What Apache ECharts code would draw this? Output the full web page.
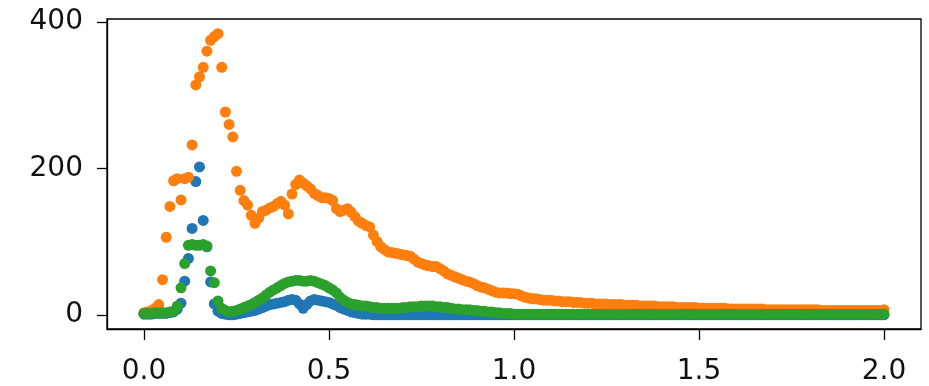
<!DOCTYPE html>
<html>
<head>
<meta charset="utf-8">
<script src="https://cdn.jsdelivr.net/npm/echarts@6/dist/echarts.min.js"></script>
<style>html,body{margin:0;padding:0;background:#fff}#c{width:929px;height:386px}</style>
</head>
<body>
<div id="c"></div>
<script>
var xs = [0.00,0.01,0.02,0.03,0.04,0.05,0.06,0.07,0.08,0.09,
0.10,0.11,0.12,0.13,0.14,0.15,0.16,0.17,0.18,0.19,
0.20,0.21,0.22,0.23,0.24,0.25,0.26,0.27,0.28,0.29,
0.30,0.31,0.32,0.33,0.34,0.35,0.36,0.37,0.38,0.39,
0.40,0.41,0.42,0.43,0.44,0.45,0.46,0.47,0.48,0.49,
0.50,0.51,0.52,0.53,0.54,0.55,0.56,0.57,0.58,0.59,
0.60,0.61,0.62,0.63,0.64,0.65,0.66,0.67,0.68,0.69,
0.70,0.71,0.72,0.73,0.74,0.75,0.76,0.77,0.78,0.79,
0.80,0.81,0.82,0.83,0.84,0.85,0.86,0.87,0.88,0.89,
0.90,0.91,0.92,0.93,0.94,0.95,0.96,0.97,0.98,0.99,
1.00,1.01,1.02,1.03,1.04,1.05,1.06,1.07,1.08,1.09,
1.10,1.11,1.12,1.13,1.14,1.15,1.16,1.17,1.18,1.19,
1.20,1.21,1.22,1.23,1.24,1.25,1.26,1.27,1.28,1.29,
1.30,1.31,1.32,1.33,1.34,1.35,1.36,1.37,1.38,1.39,
1.40,1.41,1.42,1.43,1.44,1.45,1.46,1.47,1.48,1.49,
1.50,1.51,1.52,1.53,1.54,1.55,1.56,1.57,1.58,1.59,
1.60,1.61,1.62,1.63,1.64,1.65,1.66,1.67,1.68,1.69,
1.70,1.71,1.72,1.73,1.74,1.75,1.76,1.77,1.78,1.79,
1.80,1.81,1.82,1.83,1.84,1.85,1.86,1.87,1.88,1.89,
1.90,1.91,1.92,1.93,1.94,1.95,1.96,1.97,1.98,1.99,
2.00];

var blue = [1,1,1,2,2,2,2,3,4,8,
16,46,77,118,182,202,129,93,45,15,
5,2,1,0,0,1,2,3,4,5,
6,8,10,12,14,15,16,17,18,20,
21,20,15,9,14,19,21,20,19,18,
17,15,13,10,8,6,4,3,2,1,
1,1,0,0,0,0,0,0,0,0,
0,0,0,0,0,0,0,0,0,0,
0,0,0,0,0,0,0,0,0,0,
0,0,0,0,0,0,0,0,0,0,
0,0,0,0,0,0,0,0,0,0,
0,0,0,0,0,0,0,0,0,0,
0,0,0,0,0,0,0,0,0,0,
0,0,0,0,0,0,0,0,0,0,
0,0,0,0,0,0,0,0,0,0,
0,0,0,0,0,0,0,0,0,0,
0,0,0,0,0,0,0,0,0,0,
0,0,0,0,0,0,0,0,0,0,
0,0,0,0,0,0,0,0,0,0,
0,0,0,0,0,0,0,0,0,0,
0];

var orange = [3,4,6,9,14,48,106,148,183,186,
157,186,188,232,314,325,338,360,375,380,
384,338,277,260,243,196,170,156,150,136,
125,132,141,143,146,148,152,155,150,138,
165,178,184,180,176,172,166,163,160,160,
159,156,145,141,143,145,140,134,128,125,
122,120,109,100,93,89,86,85,84,83,
82,81,80,76,72,70,68,67,66,66,
63,60,56,54,52,50,48,46,45,43,
40,38,37,35,33,31,30,30,30,29,
29,28,26,24,23,22,22,21,20,20,
20,19,19,18,18,18,17,17,17,16,
16,16,15,15,15,15,14,14,14,14,
13,13,13,13,12,12,12,12,12,11,
11,11,11,11,10,10,10,10,10,10,
9,9,9,9,9,9,9,9,8,8,
8,8,8,8,8,8,8,8,7,7,
7,7,7,7,7,7,7,7,7,7,
7,7,7,6,6,6,6,6,6,6,
6,6,6,6,6,6,6,6,6,6,
7];

var green = [2,2,2,3,3,3,3,4,5,12,
37,70,95,96,95,95,96,94,60,44,
19,9,6,4,5,6,8,10,12,14,
17,20,23,27,31,34,37,40,43,45,
46,47,47,46,46,47,46,44,42,40,
37,34,30,24,20,17,15,14,13,12,
12,11,10,10,9,9,9,9,9,9,
10,10,11,11,11,12,12,12,12,11,
11,10,10,9,8,8,7,7,7,6,
6,5,5,4,4,3,3,2,2,2,
1,1,1,1,1,1,1,1,1,1,
1,1,1,1,1,1,1,1,1,1,
1,1,1,1,1,1,1,1,1,1,
1,1,1,1,1,1,1,1,1,1,
1,1,1,1,1,1,1,1,1,1,
1,1,1,1,1,1,1,1,1,1,
1,1,1,1,1,1,1,1,1,1,
1,1,1,1,1,1,1,1,1,1,
1,1,1,1,1,1,1,1,1,1,
1,1,1,1,1,1,1,1,1,1,
1];

var xTicks = [0, 0.5, 1.0, 1.5, 2.0];
var xTickLabels = ['0.0', '0.5', '1.0', '1.5', '2.0'];
var yTicks = [0, 200, 400];
var yTickLabels = ['0', '200', '400'];

function pairs(ys) { return xs.map(function (x, i) { return [x, ys[i]]; }); }

var chart = echarts.init(document.getElementById('c'), null, {renderer: 'canvas'});
var font = {fontFamily: 'DejaVu Sans', fontSize: 28, color: '#111'};
chart.setOption({
  animation: false,
  backgroundColor: '#fff',
  grid: {left: 107, right: 8, top: 19, bottom: 55, show: true, borderColor: '#000', borderWidth: 1.3, backgroundColor: 'transparent'},
  xAxis: {
    type: 'value', min: -0.1, max: 2.1,
    axisLine: {show: true, onZero: false, lineStyle: {color: '#000', width: 1.3}},
    axisTick: {show: true, length: 11, lineStyle: {color: '#000', width: 1.3}, customValues: xTicks},
    axisLabel: Object.assign({margin: 29, customValues: xTicks, formatter: function (v) { return xTickLabels[xTicks.indexOf(v)]; }}, font),
    splitLine: {show: false}
  },
  yAxis: {
    type: 'value', min: -19.3, max: 404,
    axisLine: {show: true, onZero: false, lineStyle: {color: '#000', width: 1.3}},
    axisTick: {show: true, length: 10, lineStyle: {color: '#000', width: 1.3}, customValues: yTicks},
    axisLabel: Object.assign({margin: 24, customValues: yTicks, formatter: function (v) { return yTickLabels[yTicks.indexOf(v)]; }}, font),
    splitLine: {show: false}
  },
  series: [
    {type: 'scatter', data: pairs(blue), symbolSize: 11, itemStyle: {color: '#1f77b4', opacity: 1}},
    {type: 'scatter', data: pairs(orange), symbolSize: 11, itemStyle: {color: '#ff7f0e', opacity: 1}},
    {type: 'scatter', data: pairs(green), symbolSize: 11, itemStyle: {color: '#2ca02c', opacity: 1}}
  ]
});
</script>
</body>
</html>
